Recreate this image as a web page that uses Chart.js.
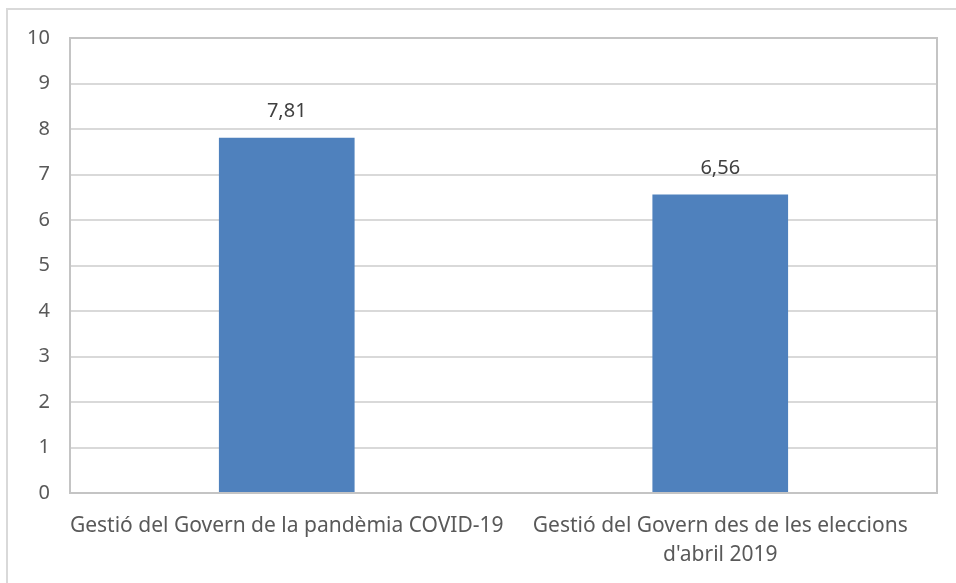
<!doctype html>
<html lang="ca">
<head>
  <meta charset="utf-8" />
  <title>Valoració de la gestió del Govern</title>
  <script src="https://cdn.jsdelivr.net/npm/chart.js@4.4.1/dist/chart.umd.min.js"></script>
  <style>
    *{box-sizing:border-box;margin:0;padding:0}
    html,body{width:956px;height:583px;background:#fff;overflow:hidden}
    #frame{position:absolute;left:6px;top:8px;width:970px;height:600px;border:2px solid #D9D9D9}
    #wrap{position:absolute;left:0;top:0;width:956px;height:583px}
  </style>
</head>
<body>
  <div id="frame"></div>
  <div id="wrap"><canvas id="chart"></canvas></div>

  <script>
    // dades
    const categories = [
      'Gestió del Govern de la pandèmia COVID-19',
      ['Gestió del Govern des de les eleccions', "d'abril 2019"]
    ];
    const values = [7.81, 6.56];
    const yTicks = [0, 1, 2, 3, 4, 5, 6, 7, 8, 9, 10];

    const FONT = '"Noto Sans", sans-serif';

    // etiquetes de valor damunt les barres
    const valueLabels = {
      id: 'valueLabels',
      afterDatasetsDraw(chart){
        const ctx = chart.ctx;
        const meta = chart.getDatasetMeta(0);
        ctx.save();
        ctx.font = '20px ' + FONT;
        ctx.fillStyle = '#404040';
        ctx.textAlign = 'center';
        ctx.textBaseline = 'middle';
        meta.data.forEach((bar, i) => {
          ctx.fillText(values[i].toFixed(2).replace('.', ','), bar.x, bar.y - 26);
        });
        ctx.restore();
      }
    };

    // vora de l'àrea de dibuix
    const plotBorder = {
      id: 'plotBorder',
      afterDraw(chart){
        const a = chart.chartArea, ctx = chart.ctx;
        ctx.save();
        ctx.strokeStyle = '#C4C4C4';
        ctx.lineWidth = 2;
        ctx.strokeRect(a.left, a.top, a.right - a.left, a.bottom - a.top);
        ctx.restore();
      }
    };

    new Chart(document.getElementById('chart'), {
      type: 'bar',
      data: {
        labels: categories,
        datasets: [{
          data: values,
          backgroundColor: '#4F81BD',
          borderWidth: 0,
          categoryPercentage: 1,
          barPercentage: 0.313
        }]
      },
      options: {
        responsive: true,
        maintainAspectRatio: false,
        animation: false,
        layout: { padding: { top: 38, right: 19, left: 0, bottom: 0 } },
        plugins: { legend: { display: false }, tooltip: { enabled: false } },
        scales: {
          x: {
            grid: { display: false, drawTicks: false },
            border: { display: false },
            ticks: {
              color: '#595959', font: { family: FONT, size: 21, lineHeight: 1.4 },
              padding: 18, maxRotation: 0, autoSkip: false
            },
            afterFit(s){ s.height = 90; }
          },
          y: {
            min: 0, max: 10,
            afterBuildTicks(s){ s.ticks = yTicks.map(v => ({ value: v })); },
            grid: { color: '#D9D9D9', lineWidth: 2, drawTicks: false },
            border: { display: false },
            ticks: {
              color: '#595959', font: { family: FONT, size: 20 },
              padding: 20
            },
            afterFit(s){ s.width = 70; }
          }
        }
      },
      plugins: [valueLabels, plotBorder]
    });
  </script>
</body>
</html>
